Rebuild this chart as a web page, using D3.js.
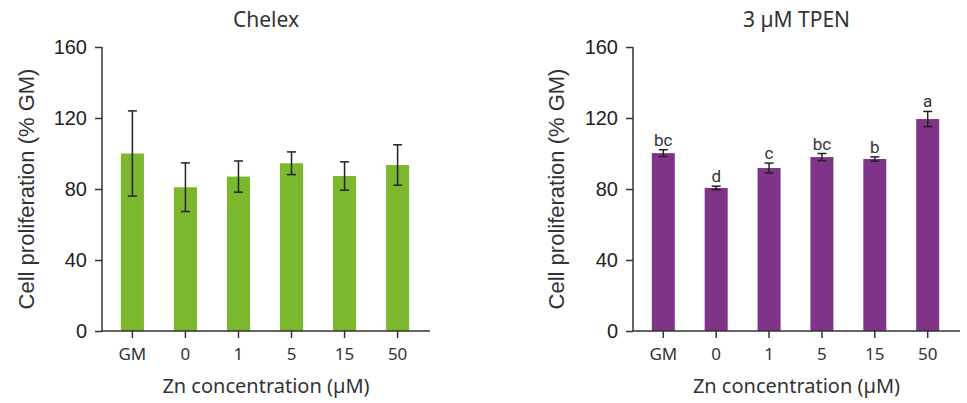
<!DOCTYPE html>
<html><head><meta charset="utf-8">
<script src="https://cdn.jsdelivr.net/npm/d3@7"></script>
<style>body{margin:0;background:#fff}svg{display:block}</style>
</head><body>
<svg id="c" width="967" height="403"></svg>
<script>
const categories = ["GM","0","1","5","15","50"];
const chelexMeans = [100, 81, 87, 94.5, 87.3, 93.5];
const chelexErr = [24, 13.7, 8.8, 6.4, 8, 11.4];
const tpenMeans = [100.2, 80.6, 91.8, 98, 96.9, 119.4];
const tpenErr = [1.9, 1.0, 2.8, 2.0, 1.2, 4.3];
const tpenLetters = ["bc","d","c","bc","b","a"];
const yTicks = [0, 40, 80, 120, 160];
const titles = ["Chelex", "3 µM TPEN"];
const colors = ["#7cb82d", "#7f3488"];

const svg = d3.select("#c");
const panels = [
  {x0:102, x1:430, means:chelexMeans, err:chelexErr, letters:null, title:titles[0], color:colors[0], ylabX:34},
  {x0:633, x1:960, means:tpenMeans, err:tpenErr, letters:tpenLetters, title:titles[1], color:colors[1], ylabX:564}
];
const yTop = 47, yBot = 331;
const axisColor = "#333";

panels.forEach(p => {
  const y = d3.scaleLinear().domain([0,160]).range([yBot, yTop]);
  const x = d3.scaleBand().domain(categories).range([p.x0 + 4, p.x1 - 6]).paddingInner(0.565).paddingOuter(0.28);
  const g = svg.append("g");
  // bars
  g.selectAll("rect.bar").data(p.means).enter().append("rect")
    .attr("x", (d,i)=>x(categories[i])).attr("width", x.bandwidth())
    .attr("y", d=>y(d)).attr("height", d=>yBot - y(d)).attr("fill", p.color);
  // error bars
  const cap = 4.5;
  p.means.forEach((m,i)=>{
    const cx = x(categories[i]) + x.bandwidth()/2;
    const e = p.err[i];
    const eg = g.append("g").attr("stroke","#222").attr("stroke-width",1.5);
    eg.append("line").attr("x1",cx).attr("x2",cx).attr("y1",y(m+e)).attr("y2",y(m-e));
    eg.append("line").attr("x1",cx-cap).attr("x2",cx+cap).attr("y1",y(m+e)).attr("y2",y(m+e));
    eg.append("line").attr("x1",cx-cap).attr("x2",cx+cap).attr("y1",y(m-e)).attr("y2",y(m-e));
    if (p.letters) {
      g.append("text").attr("x",cx).attr("y",y(m+e)-4).attr("text-anchor","middle")
        .attr("font-family","Roboto, 'Liberation Sans', sans-serif").attr("font-size",17).attr("fill","#333")
        .text(p.letters[i]);
    }
  });
  // y axis
  const ya = g.append("g").attr("transform",`translate(${p.x0},0)`)
    .call(d3.axisLeft(y).tickValues(yTicks).tickSize(7).tickPadding(8));
  ya.select(".domain").attr("stroke",axisColor).attr("stroke-width",1.5).attr("d",`M-0,${yTop}V${yBot}`);
  ya.selectAll(".tick line").attr("stroke",axisColor).attr("stroke-width",1.5);
  ya.selectAll(".tick text").attr("font-family","'Liberation Sans', Arial, sans-serif").attr("font-size",20).attr("fill","#222");
  // x axis
  const xa = g.append("g").attr("transform",`translate(0,${yBot})`)
    .call(d3.axisBottom(x).tickSize(7).tickPadding(10));
  xa.select(".domain").attr("stroke",axisColor).attr("stroke-width",1.5).attr("d",`M${p.x0},0H${p.x1}`);
  xa.selectAll(".tick line").attr("stroke",axisColor).attr("stroke-width",1.5);
  xa.selectAll(".tick text").attr("font-family","'Noto Sans', sans-serif").attr("font-size",17).attr("fill","#333");
  // titles
  const cxm = (p.x0 + p.x1)/2;
  g.append("text").attr("x",cxm).attr("y",27).attr("text-anchor","middle")
    .attr("font-family","'Noto Sans', sans-serif").attr("font-size",21).attr("fill","#333").text(p.title);
  g.append("text").attr("x",cxm).attr("y",393).attr("text-anchor","middle")
    .attr("font-family","'Noto Sans', sans-serif").attr("font-size",20).attr("fill","#333").text("Zn concentration (µM)");
  g.append("text").attr("transform",`translate(${p.ylabX},${(yTop+yBot)/2}) rotate(-90)`).attr("text-anchor","middle")
    .attr("font-family","'Liberation Sans', Arial, sans-serif").attr("font-size",22).attr("fill","#333").text("Cell proliferation (% GM)");
});
</script>
</body></html>
